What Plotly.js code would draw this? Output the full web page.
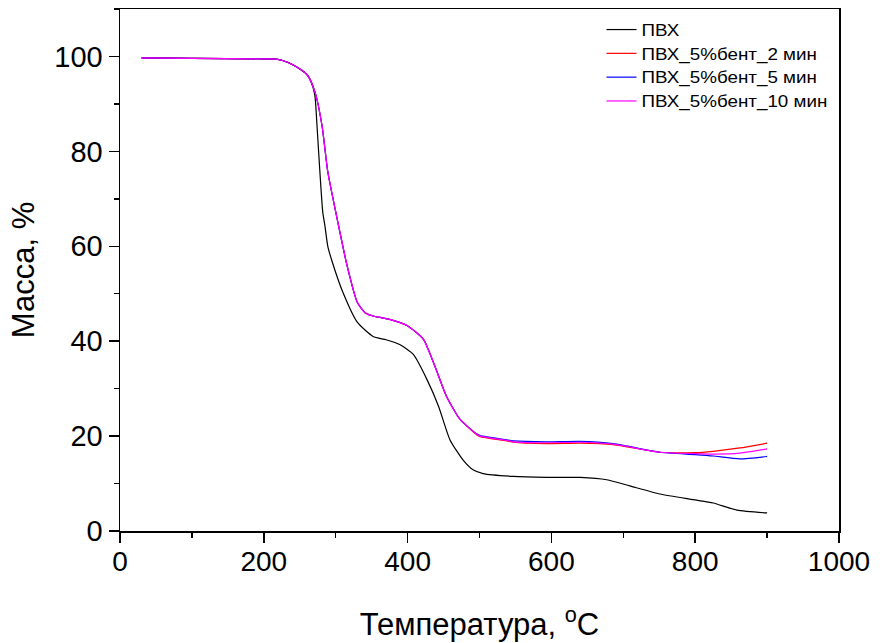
<!DOCTYPE html>
<html><head><meta charset="utf-8">
<script src="https://cdn.plot.ly/plotly-3.0.1.min.js"></script>
<style>html,body{margin:0;padding:0;background:#fff}#c{width:880px;height:643px}</style>
</head><body><div id="c"></div>
<script>
const names = ["ПВХ", "ПВХ_5%бент_2 мин", "ПВХ_5%бент_5 мин", "ПВХ_5%бент_10 мин"];
const colors = ["#000000", "#ff0000", "#0000ff", "#ff00ff"];

const tPVC = [30, 100, 200, 212, 225, 241, 260, 266, 271, 274, 278, 282, 285, 289, 295, 310, 330, 352, 370, 389, 408, 427, 443, 459, 477, 491, 505, 547, 593, 640, 677, 709, 751, 797, 825, 858, 900];
const mPVC = [99.7, 99.6, 99.5, 99.5, 99.2, 98.2, 96.2, 94.6, 91.8, 85.4, 75.7, 67.2, 64.3, 60.0, 56.8, 50.3, 44.0, 41.0, 40.3, 39.3, 37.2, 31.9, 26.3, 19.2, 15.0, 12.9, 12.1, 11.5, 11.3, 11.3, 10.8, 9.5, 7.8, 6.6, 5.9, 4.4, 3.8];

const tBent = [30, 100, 200, 212, 225, 241, 260, 271, 281, 289, 302, 316, 330, 341, 352, 362, 375, 399, 422, 438, 454, 473, 496, 501, 538, 547, 593, 640, 686, 751, 800, 825, 862, 900];
const mBent2 = [99.7, 99.6, 99.5, 99.5, 99.2, 98.2, 96.2, 92.6, 85.4, 75.7, 65.8, 55.8, 48.2, 46.0, 45.3, 45.0, 44.6, 43.3, 40.4, 34.7, 28.4, 23.5, 20.3, 19.9, 19.0, 18.7, 18.4, 18.5, 18.2, 16.6, 16.5, 16.8, 17.5, 18.5];
const mBent5 = [99.7, 99.6, 99.5, 99.5, 99.2, 98.2, 96.2, 92.6, 85.4, 75.7, 65.8, 55.8, 48.2, 46.0, 45.3, 45.0, 44.6, 43.3, 40.4, 34.7, 28.4, 23.5, 20.5, 20.1, 19.2, 19.0, 18.8, 18.9, 18.4, 16.6, 16.1, 15.8, 15.2, 15.7];
const mBent10 = [99.7, 99.6, 99.5, 99.5, 99.2, 98.2, 96.2, 92.6, 85.4, 75.7, 65.8, 55.8, 48.2, 46.0, 45.3, 45.0, 44.6, 43.3, 40.4, 34.7, 28.4, 23.5, 20.4, 20.0, 19.1, 18.8, 18.6, 18.7, 18.3, 16.6, 16.3, 16.2, 16.4, 17.3];

const xs = [tPVC, tBent, tBent, tBent];
const ys = [mPVC, mBent2, mBent5, mBent10];

const traces = names.map((n, i) => ({
  x: xs[i], y: ys[i], name: n, type: "scatter", mode: "lines",
  line: {color: colors[i], width: 1.2, shape: "spline", smoothing: 0.6}
}));

const FONT = "Liberation Sans, Arial, sans-serif";
const axisCommon = {
  showgrid: false, zeroline: false, showline: true, mirror: true,
  linecolor: "#000", linewidth: 1.5, ticks: "outside", ticklen: 10, tickwidth: 1.5,
  tickcolor: "#000"
};

const layout = {
  width: 880, height: 643,
  margin: {l: 120, r: 41, t: 9, b: 112},
  paper_bgcolor: "#fff", plot_bgcolor: "#fff",
  showlegend: true,
  legend: {x: 0.6697, y: 0.993, xanchor: "left", yanchor: "top", bgcolor: "rgba(0,0,0,0)",
    font: {family: FONT, size: 16, color: "#000"}, tracegroupgap: 0},
  xaxis: Object.assign({}, axisCommon, {
    range: [0, 1000], dtick: 200, tick0: 0,
    tickfont: {family: FONT, size: 28, color: "#000"},
    minor: {dtick: 100, ticks: "outside", ticklen: 5, tickwidth: 1.5, tickcolor: "#000"},
    title: {text: "Температура, <sup>o</sup>C", font: {family: FONT, size: 31, color: "#000"}, standoff: 32}
  }),
  yaxis: Object.assign({}, axisCommon, {
    range: [0, 110], dtick: 20, tick0: 0,
    tickfont: {family: FONT, size: 29, color: "#000"},
    minor: {dtick: 10, ticks: "outside", ticklen: 5, tickwidth: 1.5, tickcolor: "#000"},
    title: {text: "Масса, %", font: {family: FONT, size: 31, color: "#000"}, standoff: 10}
  })
};

function stretch(el, sx) {
  const x = parseFloat(el.getAttribute("x")) || 0, y = parseFloat(el.getAttribute("y")) || 0;
  const t = el.getAttribute("transform") || "";
  el.setAttribute("transform", t + " translate(" + x + "," + y + ") scale(" + sx + ",1) translate(" + (-x) + "," + (-y) + ")");
}

Plotly.newPlot("c", traces, layout, {displayModeBar: false, staticPlot: true}).then(gd => {
  // legend texts in the reference are a little wider than the font's natural width
  gd.querySelectorAll(".legend [clip-path]").forEach(e => e.removeAttribute("clip-path"));
  const lt = Array.from(gd.querySelectorAll(".legend .legendtext"));
  if (lt.length) {
    const w = lt[lt.length - 1].getBBox().width;
    const sx = w > 0 ? 186 / w : 1;
    lt.forEach(el => stretch(el, sx));
  }
  // x tick labels sit slightly closer to the axis in the reference
  gd.querySelectorAll(".xtick text").forEach(el => {
    const t = el.getAttribute("transform") || "";
    el.setAttribute("transform", t + " translate(0,-5)");
  });
});
</script></body></html>
